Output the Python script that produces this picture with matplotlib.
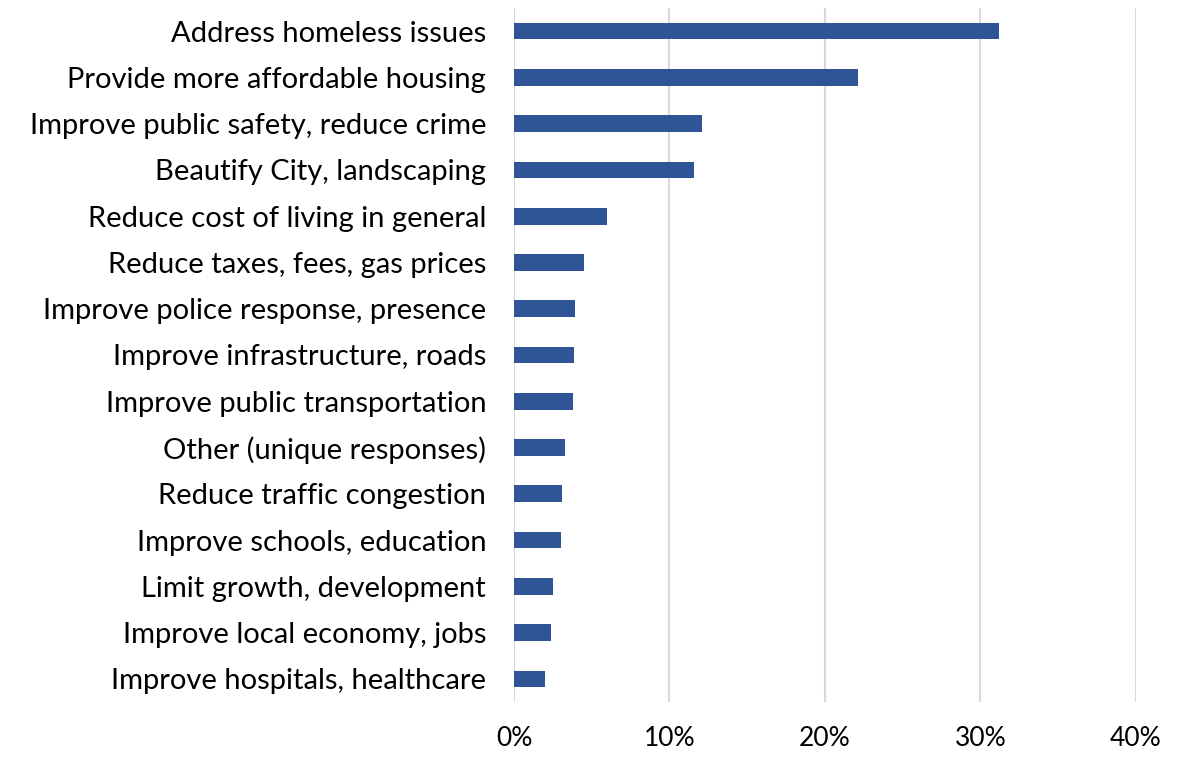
import matplotlib
matplotlib.use("Agg")
import matplotlib.pyplot as plt
from matplotlib.ticker import FuncFormatter

# Survey categories (top to bottom) and share of responses (%)
categories = [
    "Address homeless issues",
    "Provide more affordable housing",
    "Improve public safety, reduce crime",
    "Beautify City, landscaping",
    "Reduce cost of living in general",
    "Reduce taxes, fees, gas prices",
    "Improve police response, presence",
    "Improve infrastructure, roads",
    "Improve public transportation",
    "Other (unique responses)",
    "Reduce traffic congestion",
    "Improve schools, education",
    "Limit growth, development",
    "Improve local economy, jobs",
    "Improve hospitals, healthcare",
]
values = [31.2, 22.1, 12.1, 11.6, 6.0, 4.5, 3.9, 3.85, 3.8, 3.3, 3.1, 3.0, 2.5, 2.4, 2.0]
xticks = [0, 10, 20, 30, 40]

plt.rcParams["font.family"] = ["Lato", "DejaVu Sans"]

fig = plt.figure(figsize=(11.95, 7.57), dpi=100)
ax = fig.add_axes([0.4301, 0.0727, 0.5205, 0.9167])

y = range(len(categories))
ax.barh(y, values, height=0.36, color="#2F5597", zorder=3)

ax.set_xlim(0, 40)
ax.set_ylim(len(categories) - 0.5, -0.5)
ax.set_yticks(list(y))
ax.set_yticklabels(categories, fontsize=21)
ax.set_xticks(xticks)
ax.xaxis.set_major_formatter(FuncFormatter(lambda v, _: f"{v:.0f}%"))
ax.tick_params(axis="x", labelsize=19, length=0, pad=17)
ax.tick_params(axis="y", length=0, pad=20)

ax.grid(axis="x", color="#d9d9d9", linewidth=1.5, zorder=0)
for spine in ax.spines.values():
    spine.set_visible(False)

fig.savefig("out.png", dpi=100)
plt.close(fig)
